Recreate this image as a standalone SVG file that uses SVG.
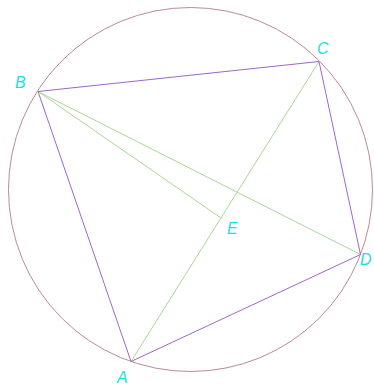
<svg xmlns="http://www.w3.org/2000/svg" width="374" height="387" viewBox="0 0 374 387">
<style>
.circ{fill:none;stroke:#bb8a96;stroke-width:1}
.quad{fill:none;stroke:#a066c8;stroke-width:1}
.grn{fill:none;stroke:#aad896;stroke-width:1}
.lbl{font-family:"Liberation Sans",Arial,sans-serif;font-style:italic;font-size:16px;fill:#22dede}
</style>
<rect width="374" height="387" fill="#fff"/>
<g id="circle"><circle class="circ" cx="190.5" cy="189.5" r="182"/></g>
<g id="connectors">
<line class="grn" x1="38" y1="91.5" x2="360.5" y2="254.5"/>
<line class="grn" x1="38" y1="91.5" x2="221" y2="218"/>
<line class="grn" x1="131" y1="361.5" x2="319" y2="61.5"/>
<polygon class="quad" points="131,361.5 38,91.5 319,61.5 360.5,254.5"/>
</g>
<g id="A"><text class="lbl" x="117" y="383">A</text></g>
<g id="B"><text class="lbl" x="15" y="88">B</text></g>
<g id="C"><text class="lbl" x="317" y="54">C</text></g>
<g id="D"><text class="lbl" x="360" y="265">D</text></g>
<g id="E"><text class="lbl" x="227" y="234">E</text></g>
</svg>
